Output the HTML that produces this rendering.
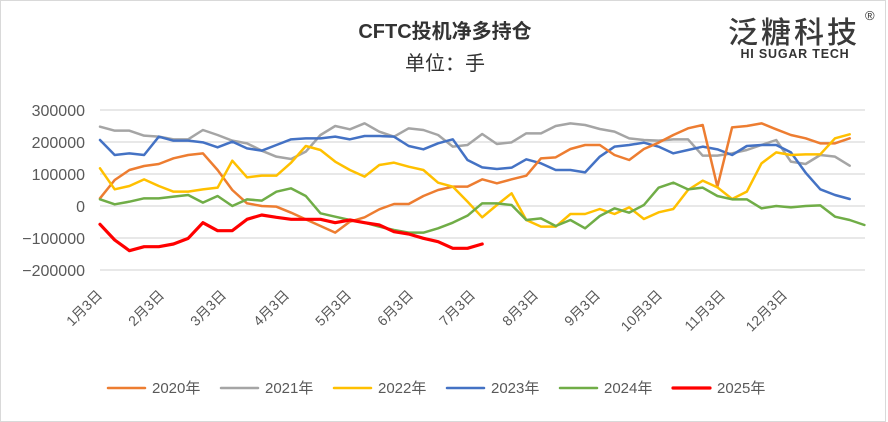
<!DOCTYPE html>
<html><head><meta charset="utf-8"><style>
html,body{margin:0;padding:0;background:#fff;}
svg{display:block;font-family:"Liberation Sans","Noto Sans CJK SC",sans-serif;}
</style></head><body>
<svg width="888" height="422" viewBox="0 0 888 422" xmlns="http://www.w3.org/2000/svg">
<rect x="0.5" y="0.5" width="885" height="421" fill="#fff" stroke="#d9d9d9"/>
<text x="445" y="38" text-anchor="middle" font-size="20" font-weight="bold" fill="#333" font-family="'Liberation Sans','Noto Sans CJK SC',sans-serif">CFTC投机净多持仓</text>
<text x="445" y="70" text-anchor="middle" font-size="20" fill="#333" font-family="'Noto Sans CJK SC',sans-serif">单位：手</text>
<text x="794" y="43" text-anchor="middle" font-size="30" font-weight="500" fill="#3a3a3a" letter-spacing="3" font-family="'Noto Sans CJK SC',sans-serif">泛糖科技</text>
<text x="865" y="20" font-size="13" fill="#333">®</text>
<text x="795" y="58" text-anchor="middle" font-size="12.5" font-weight="bold" fill="#333" letter-spacing="0.8">HI SUGAR TECH</text>
<g stroke="#d9d9d9" stroke-width="1.3">
<line x1="100" y1="110" x2="865" y2="110"/><line x1="100" y1="142" x2="865" y2="142"/>
<line x1="100" y1="174" x2="865" y2="174"/><line x1="100" y1="206" x2="865" y2="206"/>
<line x1="100" y1="238" x2="865" y2="238"/><line x1="100" y1="270" x2="865" y2="270"/>
</g>
<g font-size="16" fill="#595959" text-anchor="end">
<text x="85" y="116">300000</text><text x="85" y="148">200000</text>
<text x="85" y="180">100000</text><text x="85" y="212">0</text>
<text x="85" y="244">−100000</text><text x="85" y="276">−200000</text>
</g>
<g font-size="14" fill="#595959" text-anchor="end" font-family="'Liberation Sans','Noto Sans CJK SC',sans-serif">
<text transform="translate(103,296) rotate(-45)">1月3日</text>
<text transform="translate(165,296) rotate(-45)">2月3日</text>
<text transform="translate(227,296) rotate(-45)">3月3日</text>
<text transform="translate(290,296) rotate(-45)">4月3日</text>
<text transform="translate(352,296) rotate(-45)">5月3日</text>
<text transform="translate(414,296) rotate(-45)">6月3日</text>
<text transform="translate(476,296) rotate(-45)">7月3日</text>
<text transform="translate(539,296) rotate(-45)">8月3日</text>
<text transform="translate(601,296) rotate(-45)">9月3日</text>
<text transform="translate(663,296) rotate(-45)">10月3日</text>
<text transform="translate(726,296) rotate(-45)">11月3日</text>
<text transform="translate(788,296) rotate(-45)">12月3日</text>
</g>
<g fill="none" stroke-linejoin="round" stroke-linecap="round" transform="translate(100,90) scale(14.7,0.33333)">
<polyline vector-effect="non-scaling-stroke" stroke="#a5a5a5" stroke-width="2.5" points="0,110 1,122 2,122 3,137 4,140 5,148 6,148 7,120 8,135 9,152 10,160 11,182 12,200 13,207 14,185 15,135 16,108 17,118 18,100 19,125 20,140 21,115 22,120 23,135 24,170 25,165 26,132 27,162 28,157 29,130 30,130 31,108 32,100 33,105 34,117 35,125 36,145 37,150 38,152 39,148 40,148 41,197 42,197 43,190 44,180 45,165 46,150 47,215 48,222 49,195 50,200 51,227"/>
<polyline vector-effect="non-scaling-stroke" stroke="#4472c4" stroke-width="2.5" points="0,150 1,195 2,190 3,195 4,140 5,152 6,152 7,157 8,172 9,155 10,175 11,182 12,165 13,148 14,145 15,145 16,140 17,148 18,138 19,138 20,140 21,168 22,178 23,160 24,148 25,210 26,232 27,237 28,233 29,208 30,220 31,240 32,240 33,247 34,200 35,170 36,165 37,158 38,170 39,190 40,180 41,170 42,178 43,195 44,168 45,165 46,165 47,187 48,248 49,298 50,315 51,327"/>
<polyline vector-effect="non-scaling-stroke" stroke="#ed7d31" stroke-width="2.5" points="0,325 1,270 2,240 3,228 4,222 5,205 6,195 7,190 8,240 9,300 10,340 11,348 12,350 13,368 14,388 15,408 16,428 17,395 18,382 19,358 20,342 21,342 22,318 23,300 24,290 25,290 26,268 27,280 28,268 29,257 30,205 31,202 32,177 33,165 34,165 35,195 36,210 37,177 38,158 39,135 40,115 41,105 42,290 43,112 44,108 45,100 46,118 47,135 48,145 49,160 50,160 51,145"/>
<polyline vector-effect="non-scaling-stroke" stroke="#ffc000" stroke-width="2.5" points="0,235 1,298 2,288 3,268 4,288 5,305 6,305 7,298 8,293 9,212 10,262 11,257 12,257 13,218 14,168 15,180 16,215 17,240 18,260 19,225 20,218 21,230 22,240 23,278 24,290 25,335 26,382 27,345 28,310 29,390 30,410 31,410 32,372 33,372 34,357 35,372 36,352 37,387 38,367 39,357 40,300 41,272 42,292 43,327 44,305 45,220 46,187 47,195 48,193 49,193 50,145 51,133"/>
<polyline vector-effect="non-scaling-stroke" stroke="#70ad47" stroke-width="2.5" points="0,328 1,343 2,335 3,325 4,325 5,320 6,315 7,338 8,318 9,348 10,328 11,332 12,305 13,295 14,318 15,370 16,380 17,390 18,398 19,410 20,420 21,428 22,428 23,415 24,398 25,377 26,340 27,340 28,345 29,390 30,385 31,408 32,390 33,415 34,378 35,355 36,368 37,345 38,293 39,278 40,298 41,293 42,318 43,328 44,328 45,355 46,348 47,352 48,348 49,346 50,380 51,390 52,405"/>
<polyline vector-effect="non-scaling-stroke" stroke="#ff0000" stroke-width="3.2" points="0,403 1,450 2,482 3,470 4,470 5,462 6,445 7,398 8,422 9,422 10,388 11,375 12,382 13,388 14,388 15,388 16,398 17,390 18,398 19,405 20,425 21,432 22,445 23,455 24,475 25,475 26,462"/>
</g>
<g stroke-width="2.5" stroke-linecap="round">
<line x1="108" y1="388" x2="145" y2="388" stroke="#ed7d31"/>
<line x1="221" y1="388" x2="258" y2="388" stroke="#a5a5a5"/>
<line x1="334" y1="388" x2="371" y2="388" stroke="#ffc000"/>
<line x1="447" y1="388" x2="484" y2="388" stroke="#4472c4"/>
<line x1="560" y1="388" x2="597" y2="388" stroke="#70ad47"/>
<line x1="673" y1="388" x2="710" y2="388" stroke="#ff0000" stroke-width="3.2"/>
</g>
<g font-size="15" fill="#595959" font-family="'Liberation Sans','Noto Sans CJK SC',sans-serif">
<text x="152" y="393">2020年</text><text x="265" y="393">2021年</text>
<text x="378" y="393">2022年</text><text x="491" y="393">2023年</text>
<text x="604" y="393">2024年</text><text x="717" y="393">2025年</text>
</g>
</svg>
</body></html>
